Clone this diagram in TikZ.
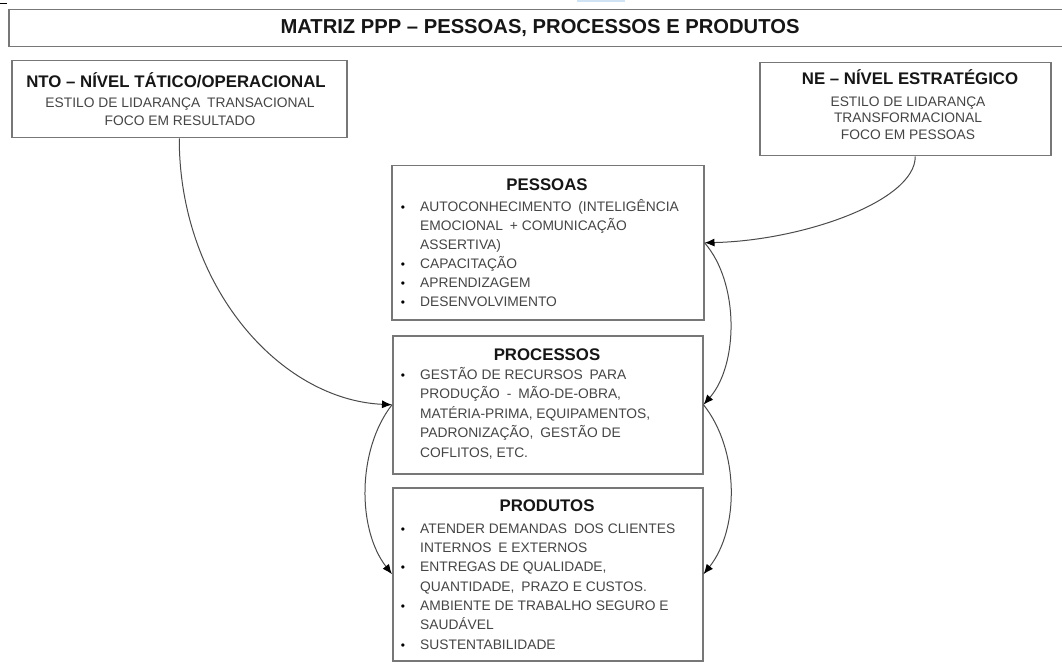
\documentclass[tikz,border=0pt]{standalone}
\usepackage{fontspec}
\setmainfont{Liberation Sans}
\usetikzlibrary{arrows.meta,calc}
\definecolor{boxline}{HTML}{777777}
\definecolor{bodytext}{HTML}{454545}
\definecolor{headtext}{HTML}{161616}
\definecolor{linkline}{HTML}{4A4A4A}
\definecolor{stripblue}{HTML}{CFE3F5}
\begin{document}
\begin{tikzpicture}[x=1pt,y=-1pt,
  frame/.style={draw=boxline, line width=1.5pt, fill=white, inner sep=0pt, anchor=north west},
  head/.style={font=\bfseries\fontsize{16.8}{20}\selectfont, text=headtext, inner sep=0pt, anchor=base},
  bodyc/.style={font=\fontsize{13.8}{19}\selectfont, text=bodytext, inner sep=0pt, anchor=base},
  body/.style={font=\fontsize{13.8}{19}\selectfont, text=bodytext, inner sep=0pt, anchor=base west},
  bul/.style={font=\fontsize{12}{19}\selectfont, text=black, inner sep=0pt, anchor=base},
  link/.style={draw=linkline, line width=1pt,
    -{Latex[length=10pt,width=8pt,color=black]}}]
\useasboundingbox (0,0) rectangle (1062,663);

% small marks along the top edge
\fill[stripblue] (577,0) rectangle (625,2);
\draw[black, line width=0.8pt] (0,3) -- (7,3);

% title bar
\node[frame, minimum width=1070pt, minimum height=37pt] (title) at (8,9) {};
\node[font=\bfseries\fontsize{20.2}{24}\selectfont, text=headtext, inner sep=0pt, anchor=base]
  (titletext) at (540,34) {MATRIZ PPP – PESSOAS, PROCESSOS E PRODUTOS};

% leadership levels
\node[frame, minimum width=335pt, minimum height=77pt] (nto) at (11,60) {};
\node[head] (nto-h) at (176,88) {NTO – NÍVEL TÁTICO/OPERACIONAL};
\node[bodyc] (nto-l1) at (180,108) {ESTILO DE LIDARANÇA\enspace TRANSACIONAL};
\node[bodyc] (nto-l2) at (180,126) {FOCO EM RESULTADO};

\node[frame, minimum width=291pt, minimum height=93pt] (ne) at (759,62) {};
\node[head] (ne-h) at (910,85) {NE – NÍVEL ESTRATÉGICO};
\node[bodyc] (ne-l1) at (908,106.5) {ESTILO DE LIDARANÇA};
\node[bodyc] (ne-l2) at (908,123) {TRANSFORMACIONAL};
\node[bodyc] (ne-l3) at (908,140) {FOCO EM PESSOAS};

% PESSOAS
\node[frame, minimum width=312pt, minimum height=154pt] (pessoas) at (391,165) {};
\node[head] (pes-h) at (547,190) {PESSOAS};
\foreach \t [count=\i from 0] in {{AUTOCONHECIMENTO\enspace (INTELIGÊNCIA}, {EMOCIONAL\enspace + COMUNICAÇÃO},
    {ASSERTIVA)}, {CAPACITAÇÃO}, {APRENDIZAGEM}, {DESENVOLVIMENTO}}
  \node[body] (pes-l\i) at (420,211.7+19*\i) {\t};
\foreach \i in {0,3,4,5}
  \node[bul] (pes-b\i) at (403,211.7+19*\i) {•};

% PROCESSOS
\node[frame, minimum width=310pt, minimum height=138pt] (processos) at (392,335) {};
\node[head] (pro-h) at (547,360) {PROCESSOS};
\foreach \t [count=\i from 0] in {{GESTÃO DE RECURSOS\enspace PARA}, {PRODUÇÃO\enspace -\enspace MÃO-DE-OBRA,},
    {MATÉRIA-PRIMA, EQUIPAMENTOS,}, {PADRONIZAÇÃO,\enspace GESTÃO DE}, {COFLITOS, ETC.}}
  \node[body] (pro-l\i) at (420,379.3+19.5*\i) {\t};
\node[bul] (pro-b0) at (403,379.3) {•};

% PRODUTOS
\node[frame, minimum width=310pt, minimum height=173pt] (produtos) at (392,487) {};
\node[head] (prd-h) at (547,511.7) {PRODUTOS};
\foreach \t [count=\i from 0] in {{ATENDER DEMANDAS\enspace DOS CLIENTES}, {INTERNOS\enspace E EXTERNOS},
    {ENTREGAS DE QUALIDADE,}, {QUANTIDADE,\enspace PRAZO E CUSTOS.}, {AMBIENTE DE TRABALHO SEGURO E},
    {SAUDÁVEL}, {SUSTENTABILIDADE}}
  \node[body] (prd-l\i) at (420,533.3+19.3*\i) {\t};
\foreach \i in {0,2,4,6}
  \node[bul] (prd-b\i) at (403,533.3+19.3*\i) {•};

% connectors
\draw[link] (nto.south) .. controls ($(nto.south)+(0,148)$) and ($(processos.west)+(-112,-5)$) .. (processos.west);
\draw[link] (processos.west) .. controls ($(processos.west)+(-35,45)$) and ($(produtos.west)+(-35,-45)$) .. (produtos.west);
\draw[link] ($(ne.south)+(10,0)$) .. controls ($(ne.south)+(10,45)$) and ($(pessoas.east)+(97,-2)$) .. (pessoas.east);
\draw[link] (pessoas.east) .. controls ($(pessoas.east)+(35,40)$) and ($(processos.east)+(35,-40)$) .. (processos.east);
\draw[link] (processos.east) .. controls ($(processos.east)+(36,45)$) and ($(produtos.east)+(36,-45)$) .. (produtos.east);
\end{tikzpicture}
\end{document}
